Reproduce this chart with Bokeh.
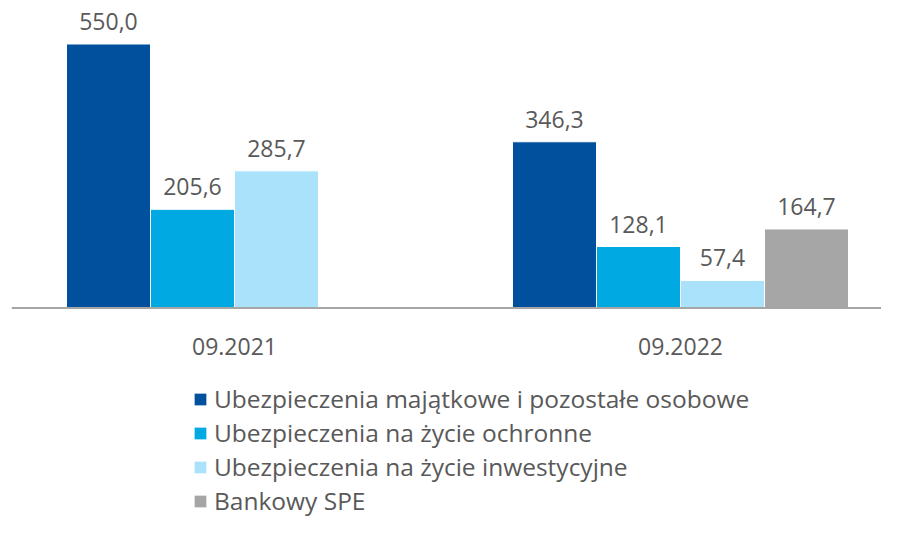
from bokeh.plotting import figure
from bokeh.models import ColumnDataSource, LabelSet, Legend, LegendItem, Range1d, Span
from bokeh.core.properties import value
from bokeh.embed import file_html
from bokeh.resources import INLINE

categories = ["09.2021", "09.2022"]
series_names = [
    "Ubezpieczenia majątkowe i pozostałe osobowe",
    "Ubezpieczenia na życie ochronne",
    "Ubezpieczenia na życie inwestycyjne",
    "Bankowy SPE",
]
majatkowe = [550.0, 346.3]
ochronne = [205.6, 128.1]
inwestycyjne = [285.7, 57.4]
bankowy_spe = [None, 164.7]
colors = ["#00509E", "#00A9E2", "#AAE1FB", "#A6A6A6"]

FONT = "Open Sans"
TXT = "#595959"
FS = "23px"
LEG_FS = "24.5px"

p = figure(width=881, height=518, output_backend="svg", toolbar_location=None,
           x_range=Range1d(-0.5, (881 - 234) / 446), y_range=Range1d(-438.5, 640.6),
           min_border_left=11, min_border_right=0, min_border_top=0, min_border_bottom=0)
p.outline_line_color = None
p.grid.visible = False
p.axis.visible = False

# baseline (category axis line)
p.add_layout(Span(location=0, dimension="width", line_color="#A6A6A6", line_width=2))

cat_src = ColumnDataSource(dict(x=list(range(len(categories))), y=[0] * len(categories), label=categories))
p.add_layout(LabelSet(x="x", y="y", text="label", source=cat_src, text_align="center",
                      text_baseline="alphabetic", y_offset=-47,
                      text_font=value(FONT), text_font_size=value(FS), text_color=value(TXT)))

bar_w = 84 / 446
all_series = [majatkowe, ochronne, inwestycyjne, bankowy_spe]
n = len(all_series)
items = []
for j, (vals, name, col) in enumerate(zip(all_series, series_names, colors)):
    xs, tops, labels = [], [], []
    for i, v in enumerate(vals):
        if v is None:
            continue
        xs.append(i + (j - (n - 1) / 2) * bar_w)
        tops.append(v)
        labels.append(f"{v:.1f}".replace(".", ","))
    src = ColumnDataSource(dict(x=xs, top=tops, label=labels))
    r = p.vbar(x="x", top="top", width=bar_w, bottom=0, source=src,
               fill_color=col, line_color="white", line_width=1)
    p.add_layout(LabelSet(x="x", y="top", text="label", source=src,
                          text_align="center", text_baseline="alphabetic", y_offset=14,
                          text_font=value(FONT), text_font_size=value(FS), text_color=value(TXT)))
    items.append(LegendItem(label=name, renderers=[r]))

legend = Legend(items=items, location=(181, 1), orientation="vertical",
                glyph_width=16, glyph_height=16, label_height=27, spacing=1,
                label_standoff=6, padding=0, margin=0,
                label_text_font=FONT, label_text_font_size=LEG_FS, label_text_color=TXT,
                border_line_color=None, background_fill_alpha=0)
p.add_layout(legend, "center")

open("out.html", "w").write(file_html(p, INLINE))
